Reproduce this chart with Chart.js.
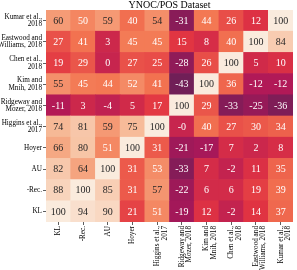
<!DOCTYPE html>
<html>
<head>
<meta charset="utf-8">
<script src="https://cdn.jsdelivr.net/npm/chart.js@4/dist/chart.umd.min.js"></script>
<style>
  html, body { margin: 0; padding: 0; background: #fff; }
  #wrap { width: 297px; height: 270px; }
</style>
</head>
<body>
<div id="wrap"><canvas id="c" width="297" height="270"></canvas></div>
<script>
// ---- data ----
const chartTitle = 'YNOC/POS Dataset';
const rowLabels = [
  ['Kumar et al.,', '2018'],
  ['Eastwood and', 'Williams, 2018'],
  ['Chen et al.,', '2018'],
  ['Kim and', 'Mnih, 2018'],
  ['Ridgeway and', 'Mozer, 2018'],
  ['Higgins et al.,', '2017'],
  'Hoyer',
  'AU',
  '-Rec.',
  'KL'
];
const colLabels = [
  'KL',
  '-Rec.',
  'AU',
  'Hoyer',
  ['Higgins et al.,', '2017'],
  ['Ridgeway and', 'Mozer, 2018'],
  ['Kim and', 'Mnih, 2018'],
  ['Chen et al.,', '2018'],
  ['Eastwood and', 'Williams, 2018'],
  ['Kumar et al.,', '2018']
];
const rowKumar    = [60, 50, 59, 40, 54, -31, 44, 26, 12, 100];
const rowEastwood = [27, 41, 3, 45, 45, 15, 8, 40, 100, 84];
const rowChen     = [19, 29, 0, 27, 25, -28, 26, 100, 5, 10];
const rowKim      = [55, 45, 44, 52, 41, -43, 100, 36, -12, -12];
const rowRidgeway = [-11, 3, -4, 5, 17, 100, 29, -33, -25, -36];
const rowHiggins  = [74, 81, 59, 75, 100, -0, 40, 27, 30, 34];
const rowHoyer    = [66, 80, 51, 100, 31, -21, -17, 7, 2, 8];
const rowAU       = [82, 64, 100, 31, 53, -33, 7, -2, 11, 35];
const rowRec      = [88, 100, 85, 31, 57, -22, 6, 6, 19, 39];
const rowKL       = [100, 94, 90, 21, 51, -19, 12, -2, 14, 37];
const values = [rowKumar, rowEastwood, rowChen, rowKim, rowRidgeway, rowHiggins, rowHoyer, rowAU, rowRec, rowKL];
const valueDisplay = [
  null, null, null, null, null,
  [null, null, null, null, null, '-0', null, null, null, null],
  null, null, null, null
];

// ---- colour map (rocket) ----
const vmin = -100, vmax = 100;
const rocket = [
  [0.0, '#03051a'], [1/7, '#35193e'], [2/7, '#701f57'], [3/7, '#ad1759'],
  [4/7, '#e13342'], [5/7, '#f37651'], [6/7, '#f6b48f'], [1.0, '#faebdd']
];
function hex2rgb(h) { return [parseInt(h.slice(1,3),16), parseInt(h.slice(3,5),16), parseInt(h.slice(5,7),16)]; }
function cmap(v) {
  let t = (v - vmin) / (vmax - vmin);
  t = Math.max(0, Math.min(1, t));
  for (let i = 0; i < rocket.length - 1; i++) {
    const [t0, c0] = rocket[i], [t1, c1] = rocket[i+1];
    if (t <= t1) {
      const f = (t - t0) / (t1 - t0);
      const a = hex2rgb(c0), b = hex2rgb(c1);
      return 'rgb(' + a.map((x, k) => Math.round(x + (b[k] - x) * f)).join(',') + ')';
    }
  }
  return rocket[rocket.length-1][1];
}

const nRows = rowLabels.length;
const FONT = "'Liberation Serif', 'Times New Roman', serif";

// datasets: bottom row first (stacked upward)
const datasets = [];
for (let k = nRows - 1; k >= 0; k--) {
  datasets.push({
    label: Array.isArray(rowLabels[k]) ? rowLabels[k].join(' ') : rowLabels[k],
    data: values[k].map(() => 1),
    cellValues: values[k],
    cellText: values[k].map((v, j) => (valueDisplay[k] && valueDisplay[k][j]) ? valueDisplay[k][j] : String(v)),
    backgroundColor: values[k].map(cmap),
    borderWidth: 0,
    barPercentage: 1.0,
    categoryPercentage: 1.0
  });
}

const annotate = {
  id: 'annotate',
  afterDatasetsDraw(chart) {
    const ctx = chart.ctx;
    ctx.save();
    ctx.font = '10px ' + FONT;
    ctx.textAlign = 'center';
    ctx.textBaseline = 'middle';
    chart.data.datasets.forEach((ds, di) => {
      const meta = chart.getDatasetMeta(di);
      meta.data.forEach((bar, j) => {
        const v = ds.cellValues[j];
        ctx.fillStyle = v >= 54 ? '#262626' : '#ffffff';
        ctx.fillText(ds.cellText[j], bar.x, (bar.y + bar.base) / 2 + 0.5);
      });
    });
    ctx.restore();
  }
};

new Chart(document.getElementById('c'), {
  type: 'bar',
  data: { labels: colLabels, datasets },
  plugins: [annotate],
  options: {
    responsive: false,
    animation: false,
    layout: { padding: { top: 0, right: 3, bottom: 0, left: 0 } },
    plugins: {
      legend: { display: false },
      tooltip: { enabled: false },
      title: {
        display: true,
        text: chartTitle,
        fullSize: false,
        color: '#000',
        font: { family: FONT, size: 10, weight: 'normal', lineHeight: 1.0 },
        padding: { top: 0, bottom: 0 }
      }
    },
    scales: {
      x: {
        stacked: true,
        offset: true,
        grid: { display: true, offset: false, drawOnChartArea: false, drawTicks: true, tickLength: 3, color: '#333', lineWidth: 0.8 },
        border: { display: false },
        ticks: {
          autoSkip: false, minRotation: 90, maxRotation: 90, padding: 1,
          color: '#000', font: { family: FONT, size: 7.2, lineHeight: 1.05 }
        },
        afterFit(scale) { scale.height = 48; }
      },
      y: {
        type: 'linear',
        stacked: true,
        min: 0, max: nRows,
        grid: { display: true, drawOnChartArea: false, drawTicks: true, tickLength: 3, color: '#333', lineWidth: 0.8 },
        border: { display: false },
        afterBuildTicks(scale) {
          scale.ticks = rowLabels.map((_, i) => ({ value: i + 0.5 }));
        },
        ticks: {
          padding: 1,
          color: '#000',
          font: { family: FONT, size: 7.2, lineHeight: 1.05 },
          callback(value) { return rowLabels[nRows - 1 - Math.floor(value)]; }
        },
        afterFit(scale) { scale.width = 46; }
      }
    }
  }
});
</script>
</body>
</html>
